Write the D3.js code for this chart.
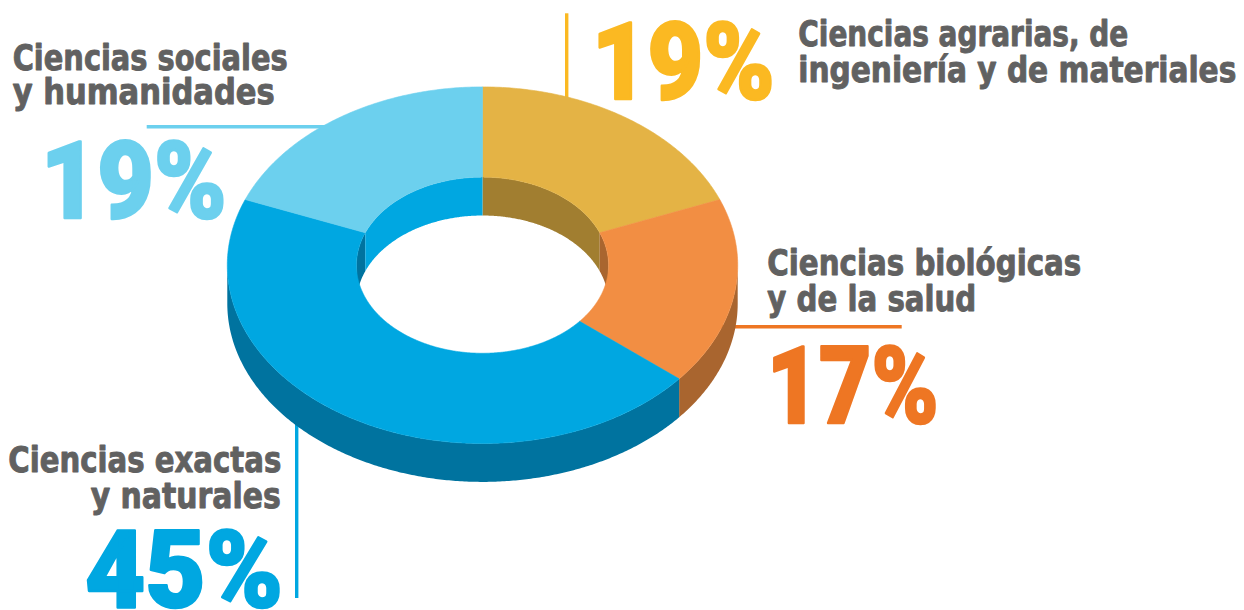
<!DOCTYPE html>
<html>
<head>
<meta charset="utf-8">
<script src="https://cdn.jsdelivr.net/npm/d3@7"></script>
<style>
  html, body { margin: 0; padding: 0; background: #ffffff; }
  svg { display: block; }
</style>
</head>
<body>
<svg id="chart" width="1244" height="610"></svg>
<script>
// ---------- data ----------
const categories = [
  "Ciencias agrarias, de ingeniería y de materiales",
  "Ciencias biológicas y de la salud",
  "Ciencias exactas y naturales",
  "Ciencias sociales y humanidades"
];
const values = [19, 17, 45, 19];
const labelLines = [
  ["Ciencias agrarias, de", "ingeniería y de materiales"],
  ["Ciencias biológicas", "y de la salud"],
  ["Ciencias exactas", "y naturales"],
  ["Ciencias sociales", "y humanidades"]
];

// ---------- styles ----------
const topColors   = ["#E4B345", "#F28E43", "#00A7E1", "#6CD0EE"];
const sideColors  = ["#A17E30", "#A9652F", "#00739F", "#00A7E1"];
const accentColors = ["#FBB922", "#EE7623", "#00A7E1", "#6CD0EE"];
const textGray = "#616161";

// ---------- geometry ----------
const cx = 482.5, cy = 265.2, rx = 255.2, ry = 178.3;
const innerRatio = 0.494;
const depth = 38.4;

const svg = d3.select("#chart");

const xs = d3.scaleLinear().domain([-1, 1]).range([cx - rx, cx + rx]);
const ys = d3.scaleLinear().domain([-1, 1]).range([cy - ry, cy + ry]);
const pt = (a, r, dz) => [xs(r * Math.sin(a)), ys(-r * Math.cos(a)) + dz];

const pie = d3.pie().sort(null).value(d => d);
const arcs = pie(values);

const line = d3.line();
function sampled(a0, a1) {
  const n = Math.max(2, Math.ceil(Math.abs(a1 - a0) / (Math.PI / 360)));
  return d3.range(n + 1).map(i => a0 + (a1 - a0) * i / n);
}
function ringPath(a0, a1, r0, dz0, r1, dz1) {
  const outer = sampled(a0, a1).map(a => pt(a, r0, dz0));
  const inner = sampled(a1, a0).map(a => pt(a, r1, dz1));
  return line(outer.concat(inner)) + "Z";
}

// ---------- leader lines (beneath the donut) ----------
const gLines = svg.append("g");
const leaderDefs = [
  { i: 0, x1: 566.7, y1: 13.3, x2: 566.7, y2: 120 },
  { i: 1, x1: 720,   y1: 326.7, x2: 901.7, y2: 326.7 },
  { i: 2, x1: 296.7, y1: 400,  x2: 296.7, y2: 598 },
  { i: 3, x1: 146.7, y1: 126.7, x2: 340,  y2: 126.7 }
];
gLines.selectAll("line").data(leaderDefs).join("line")
  .attr("x1", d => d.x1).attr("y1", d => d.y1)
  .attr("x2", d => d.x2).attr("y2", d => d.y2)
  .attr("stroke", d => accentColors[d.i])
  .attr("stroke-width", 3.4);

// ---------- donut ----------
const gDonut = svg.append("g");
const HALF = Math.PI / 2;

// outer side walls (front half)
arcs.forEach((d, i) => {
  const a0 = Math.max(d.startAngle, HALF);
  const a1 = Math.min(d.endAngle, 3 * HALF);
  if (a1 > a0) {
    gDonut.append("path")
      .attr("d", ringPath(a0, a1, 1, 0, 1, depth))
      .attr("fill", sideColors[i]);
  }
});

// inner walls (back half of the hole)
arcs.forEach((d, i) => {
  const ranges = [[Math.max(d.startAngle, 0), Math.min(d.endAngle, HALF)],
                  [Math.max(d.startAngle, 3 * HALF), Math.min(d.endAngle, 2 * Math.PI)]];
  ranges.forEach(([a0, a1]) => {
    if (a1 > a0) {
      gDonut.append("path")
        .attr("d", ringPath(a0, a1, innerRatio, 0, innerRatio, depth))
        .attr("fill", sideColors[i]);
    }
  });
});

// top faces
arcs.forEach((d, i) => {
  gDonut.append("path")
    .attr("d", ringPath(d.startAngle, d.endAngle, 1, 0, innerRatio, 0))
    .attr("fill", topColors[i])
    .attr("stroke", topColors[i])
    .attr("stroke-width", 0.6);
});

// ---------- labels ----------
const labelFont = "'Liberation Sans Narrow', 'DejaVu Sans Condensed', 'Roboto', sans-serif";
const pctFont = "'Roboto', 'Open Sans', 'Liberation Sans', sans-serif";

const labelLayout = [
  { lines: [[798.3, 46, 330], [798.3, 82, 438]], pct: [591.7, 99, 183] },
  { lines: [[767.3, 274.5, 314], [767.3, 310.5, 209]], pct: [766.7, 423.3, 172] },
  { lines: [[8.3, 472.3, 273], [90.7, 508, 190]], pct: [85, 607, 198] },
  { lines: [[12.7, 70, 275], [12.7, 104, 262]], pct: [40.7, 218, 186] }
];

const gText = svg.append("g");
labelLayout.forEach((L, i) => {
  L.lines.forEach(([x, y, w], j) => {
    gText.append("text")
      .attr("x", x).attr("y", y)
      .attr("textLength", w)
      .attr("lengthAdjust", "spacingAndGlyphs")
      .attr("font-family", labelFont)
      .attr("font-weight", 700)
      .attr("font-size", 36)
      .attr("fill", textGray)
      .attr("stroke", textGray)
      .attr("stroke-width", 0.9)
      .attr("stroke-linejoin", "round")
      .text(labelLines[i][j]);
  });
  const [px, py, pw] = L.pct;
  gText.append("text")
    .attr("x", px).attr("y", py)
    .attr("textLength", pw)
    .attr("lengthAdjust", "spacingAndGlyphs")
    .attr("font-family", pctFont)
    .attr("font-weight", 900)
    .attr("font-size", 107)
    .attr("fill", accentColors[i])
    .attr("stroke", accentColors[i])
    .attr("stroke-width", 2.5)
    .attr("stroke-linejoin", "round")
    .text(values[i] + "%");
});
</script>
</body>
</html>
